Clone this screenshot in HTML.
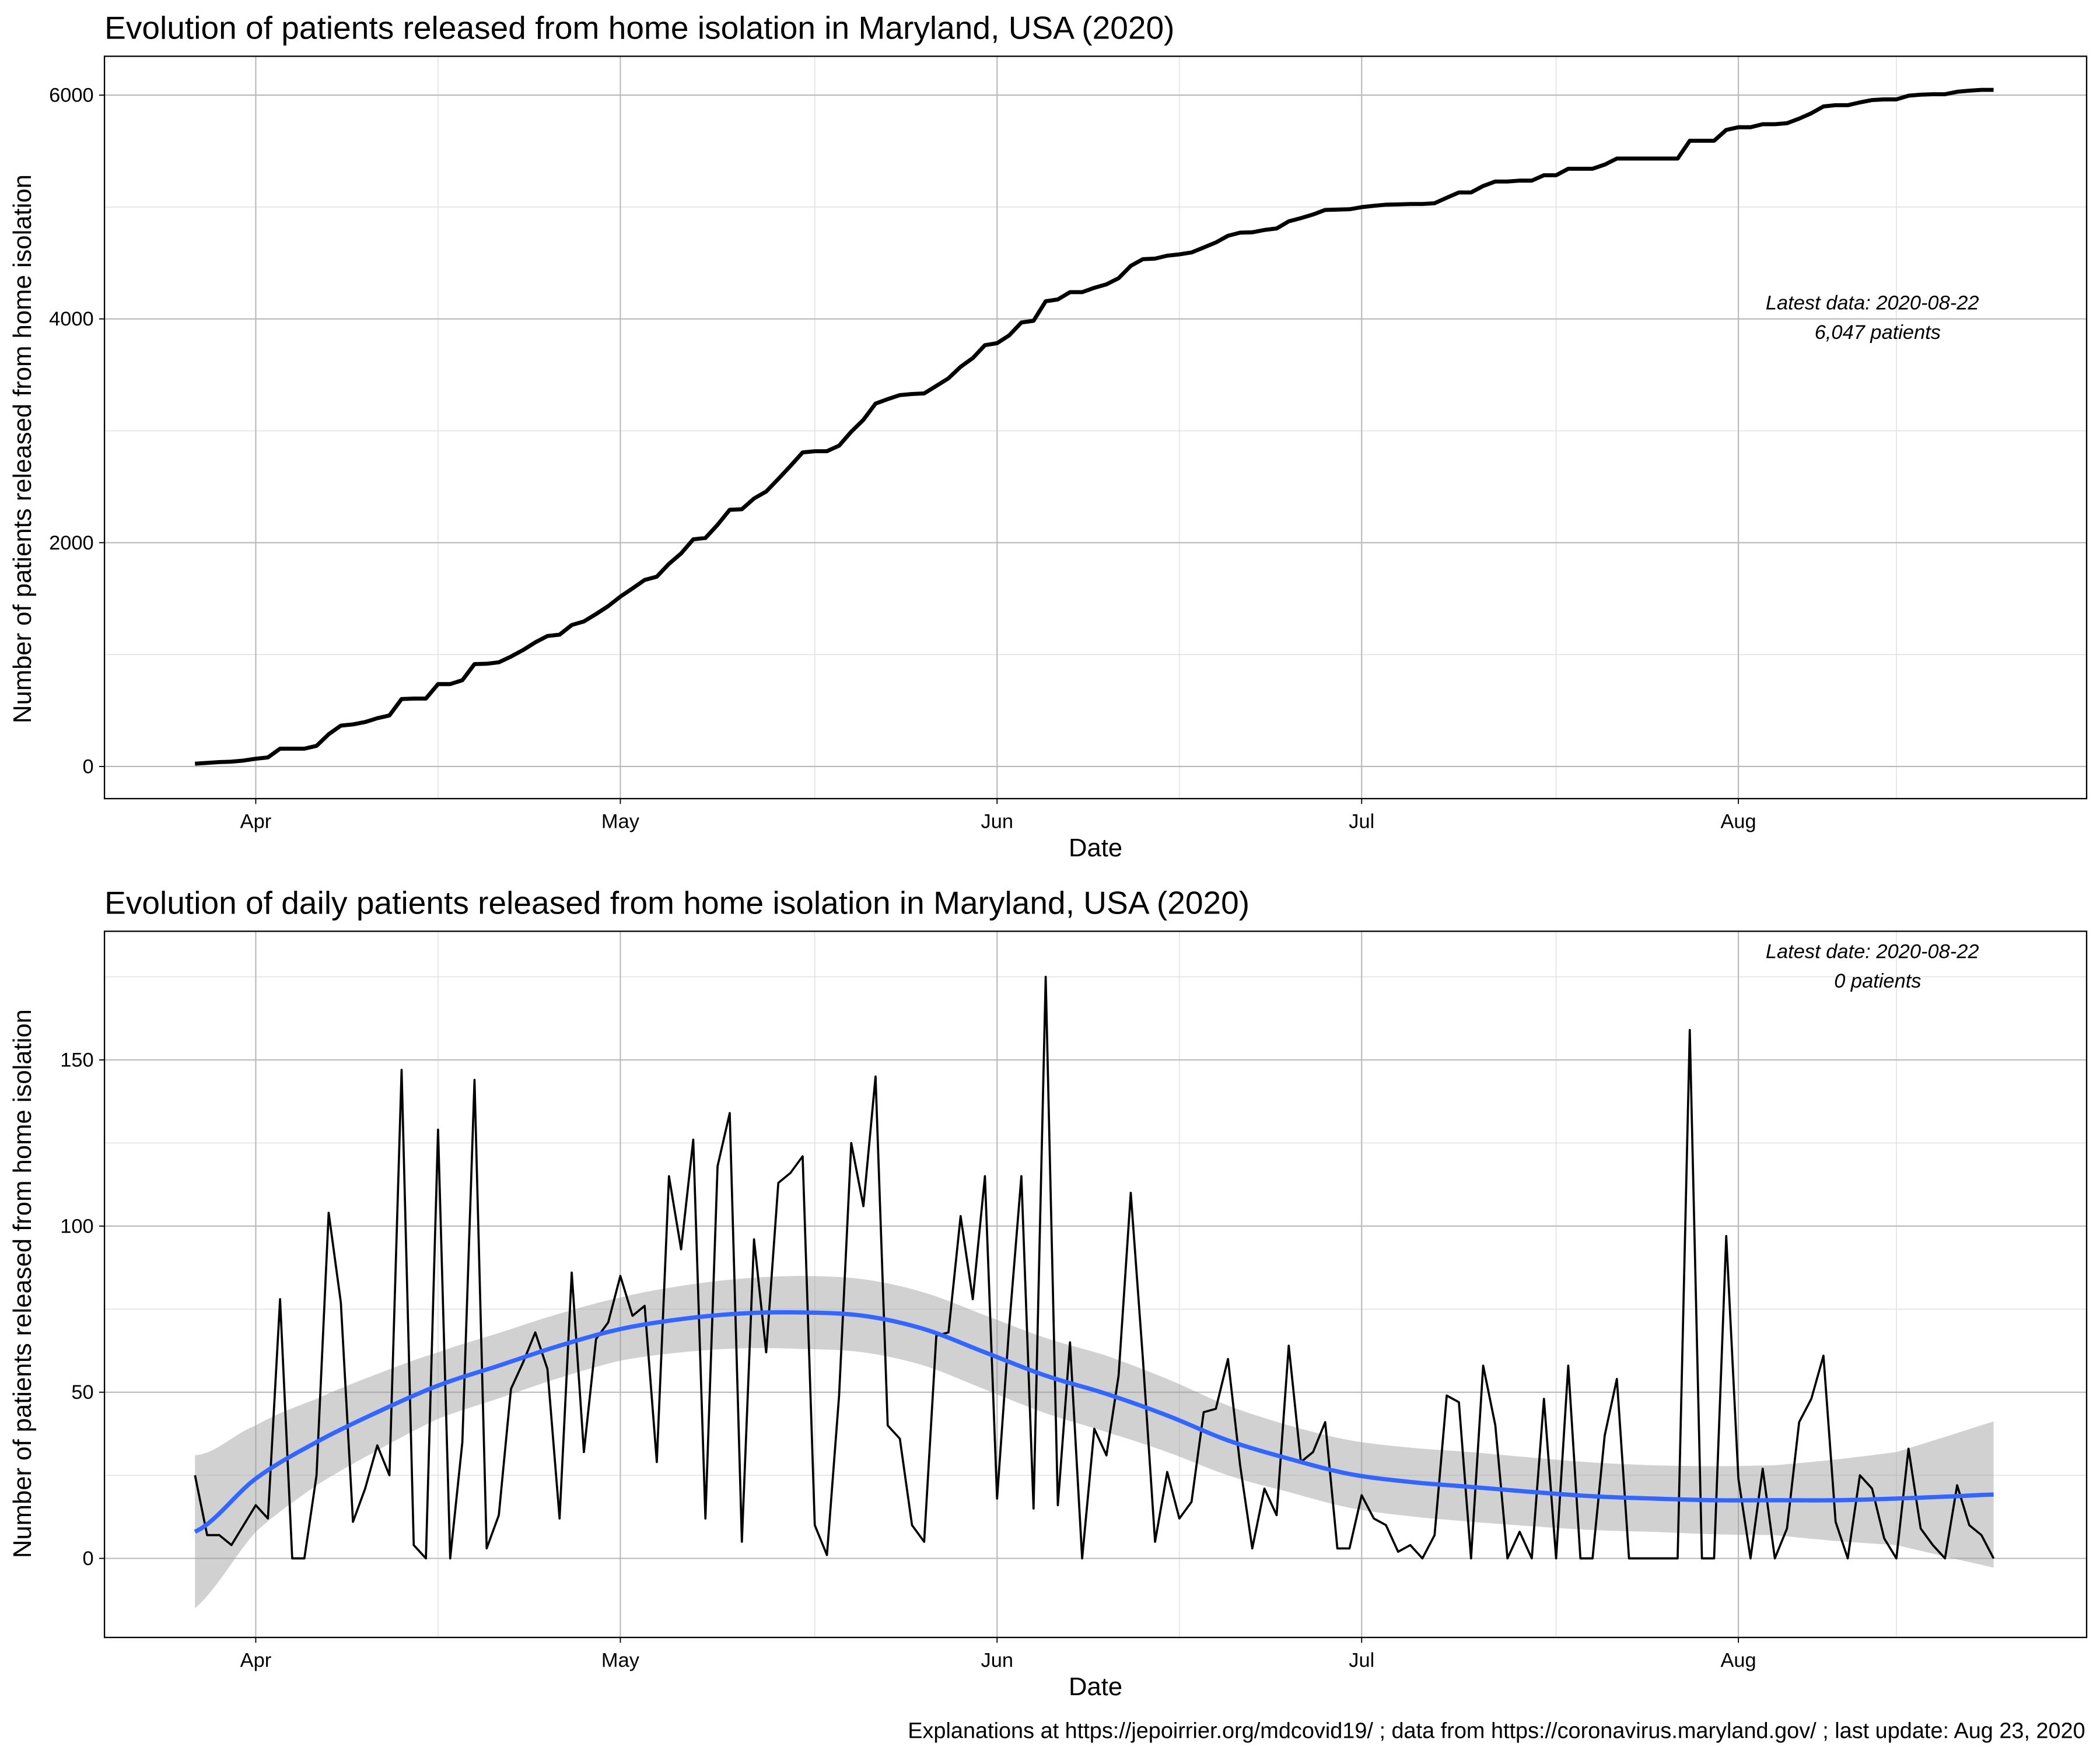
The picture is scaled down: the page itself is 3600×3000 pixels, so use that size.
<!DOCTYPE html>
<html><head><meta charset="utf-8"><title>Maryland home isolation releases</title>
<style>
html,body{margin:0;padding:0;background:#fff;}
svg{display:block;font-family:"Liberation Sans",Arial,sans-serif;}
</style></head>
<body>
<svg id="chart" width="3600" height="3000" viewBox="0 0 1568 1306" preserveAspectRatio="none" xmlns="http://www.w3.org/2000/svg">
<rect width="1568" height="1306" fill="#fff"/>
<g id="top"></g>
<g id="bot"></g>
<text x="1557" y="1297" font-size="16.5" text-anchor="end">Explanations at https://jepoirrier.org/mdcovid19/ ; data from https://coronavirus.maryland.gov/ ; last update: Aug 23, 2020</text>
</svg>
<script>
// Daily patients released, 2020-03-27 .. 2020-08-22
const daily = [25,7,7,4,10,16,12,78,0,0,
25,104,77,11,21,34,25,147,4,0,
129,0,35,144,3,13,51,59,68,57,
12,86,32,66,71,85,73,76,29,115,
93,126,12,118,134,5,96,62,113,116,
121,10,1,49,125,106,145,40,36,10,
5,67,68,103,78,115,18,70,115,15,
175,16,65,0,39,31,55,110,60,5,
26,12,17,44,45,60,28,3,21,13,
64,29,32,41,3,3,19,12,10,2,
4,0,7,49,47,0,58,40,0,8,
0,48,0,58,0,0,37,54,0,0,
0,0,0,159,0,0,97,24,0,27,
0,9,41,48,61,11,0,25,21,6,
0,33,9,4,0,22,10,7,0];
// Smoothed (loess) trend, read at sample day offsets
const smoothDays = [0,5,10,15,20,25,30,35,40,45,50,55,60,65,70,75,80,85,90,95,100,105,110,115,120,125,130,135,140,145,148];
const smoothVals = [8,24,35,44,52,58,64,69,72,73.7,74,73,69,62,55,49.5,43,35.5,30,25.4,23,21.5,20,18.7,18,17.5,17.5,17.5,18,18.7,19.2];
const bandDays = [0,5,10,20,35,50,60,75,90,105,120,130,140,148];
const bandHalf = [23,16,13,10,9.5,11,11,11.5,10,10.5,10,10.5,14,22];
const monthLabels = ["Apr","May","Jun","Jul","Aug"];
const monthDays = [5,35,66,96,127];       // day offsets from 2020-03-27
const topTicks = [0,2000,4000,6000];
const botTicks = [0,50,100,150];

const NS="http://www.w3.org/2000/svg";
function mk(tag, attrs, parent){const e=document.createElementNS(NS,tag);for(const k in attrs)e.setAttribute(k,attrs[k]);parent.appendChild(e);return e;}
const X0=145.6, DX=9.074;
function xs(d){return X0+DX*d;}
const L=78,R=1558;

const cum=[];daily.reduce((a,v,i)=>{cum[i]=a+v;return cum[i];},0);

function interp(xsA,ysA,t){
  if(t<=xsA[0])return ysA[0];
  for(let i=1;i<xsA.length;i++){if(t<=xsA[i]){const f=(t-xsA[i-1])/(xsA[i]-xsA[i-1]);return ysA[i-1]+f*(ysA[i]-ysA[i-1]);}}
  return ysA[ysA.length-1];
}
function cr(xsA,ysA,t){
  let i=0;while(i<xsA.length-2&&t>xsA[i+1])i++;
  const p0=ysA[Math.max(i-1,0)],p1=ysA[i],p2=ysA[i+1],p3=ysA[Math.min(i+2,ysA.length-1)];
  const u=(t-xsA[i])/(xsA[i+1]-xsA[i]);
  return 0.5*((2*p1)+(-p0+p2)*u+(2*p0-5*p1+4*p2-p3)*u*u+(-p0+3*p1-3*p2+p3)*u*u*u);
}

function panel(g,top,bottom,ys,ticks,minor,title,yTitle,yTitleY){
  mk('rect',{x:L,y:top,width:R-L,height:bottom-top,fill:'#fff'},g);
  minor.forEach(v=>{const l=mk('line',{x1:L,x2:R,y1:ys(v),y2:ys(v),stroke:'#dedede','stroke-width':0.6},g);
    
    });
  [-10,20,51,81,112,140].forEach(d=>{const x=xs(d);if(x>L&&x<R){const l=mk('line',{x1:x,x2:x,y1:top,y2:bottom,stroke:'#dedede','stroke-width':0.6},g);
    
    }});
  ticks.forEach(v=>{const y=ys(v);
    const l=mk('line',{x1:L,x2:R,y1:y,y2:y,stroke:'#b8b8b8','stroke-width':0.9},g);
    
    
    mk('line',{x1:L-4,x2:L,y1:y,y2:y,stroke:'#000','stroke-width':0.8},g);
    const t=mk('text',{x:L-8,y:y+5,'font-size':15,'text-anchor':'end'},g);t.textContent=v;
    
    });
  monthDays.forEach((d,i)=>{const x=xs(d);
    const l=mk('line',{x1:x,x2:x,y1:top,y2:bottom,stroke:'#b8b8b8','stroke-width':0.9},g);
    
    
    mk('line',{x1:x,x2:x,y1:bottom,y2:bottom+4,stroke:'#000','stroke-width':0.8},g);
    const t=mk('text',{x:x,y:bottom+22,'font-size':15,'text-anchor':'middle'},g);t.textContent=monthLabels[i];
    
    });
  const tt=mk('text',{x:L,y:top-13,'font-size':24},g);tt.textContent=title;
  
  
  const xt=mk('text',{x:818,y:bottom+43,'font-size':19,'text-anchor':'middle'},g);xt.textContent='Date';
  
  
  const yt=mk('text',{x:0,y:0,'font-size':19,'text-anchor':'middle',transform:`translate(23,${yTitleY}) rotate(-90)`},g);yt.textContent=yTitle;
  
  
}
function frame(g,top,bottom){const f=mk('rect',{x:L,y:top,width:R-L,height:bottom-top,fill:'none',stroke:'#000','stroke-width':1},g);
  
  }

// TOP
const gT=document.getElementById('top');
const yT=v=>572-v*(572-71)/6000;
panel(gT,42,596,yT,topTicks,[1000,3000,5000],'Evolution of patients released from home isolation in Maryland, USA (2020)','Number of patients released from home isolation',335);
const pT=mk('path',{d:cum.map((v,i)=>(i?'L':'M')+xs(i).toFixed(2)+','+yT(v).toFixed(2)).join(''),fill:'none',stroke:'#000','stroke-width':3,'stroke-linejoin':'round'},gT);


frame(gT,42,596);
const a1=mk('text',{x:1398,y:231,'font-size':15,'font-style':'italic','text-anchor':'middle'},gT);a1.textContent='Latest data: 2020-08-22';


const a2=mk('text',{x:1402,y:253,'font-size':15,'font-style':'italic','text-anchor':'middle'},gT);a2.textContent=cum[cum.length-1].toLocaleString('en-US')+' patients';



// BOTTOM
const gB=document.getElementById('bot');
const yB=v=>1163-v*2.48;
panel(gB,695,1222,yB,botTicks,[25,75,125,175],'Evolution of daily patients released from home isolation in Maryland, USA (2020)','Number of patients released from home isolation',958);
const N=daily.length-1;const up=[],lo=[];
for(let t=0;t<=N;t+=0.5){const c=cr(smoothDays,smoothVals,t),h=interp(bandDays,bandHalf,t);up.push([xs(t),yB(c+h)]);lo.push([xs(t),yB(c-h)]);}
const band=mk('path',{d:'M'+up.map(p=>p[0].toFixed(2)+','+p[1].toFixed(2)).join('L')+'L'+lo.reverse().map(p=>p[0].toFixed(2)+','+p[1].toFixed(2)).join('L')+'Z',fill:'#999','fill-opacity':0.45,stroke:'none'},gB);


const pD=mk('path',{d:daily.map((v,i)=>(i?'L':'M')+xs(i).toFixed(2)+','+yB(v).toFixed(2)).join(''),fill:'none',stroke:'#000','stroke-width':1.6,'stroke-linejoin':'round'},gB);


const sm=[];for(let t=0;t<=N;t+=0.5)sm.push((sm.length?'L':'M')+xs(t).toFixed(2)+','+yB(cr(smoothDays,smoothVals,t)).toFixed(2));
const pS=mk('path',{d:sm.join(''),fill:'none',stroke:'#3366ff','stroke-width':3.2},gB);


frame(gB,695,1222);
const b1=mk('text',{x:1398,y:715,'font-size':15,'font-style':'italic','text-anchor':'middle'},gB);b1.textContent='Latest date: 2020-08-22';


const b2=mk('text',{x:1402,y:737,'font-size':15,'font-style':'italic','text-anchor':'middle'},gB);b2.textContent=daily[N]+' patients';


</script>
</body></html>
